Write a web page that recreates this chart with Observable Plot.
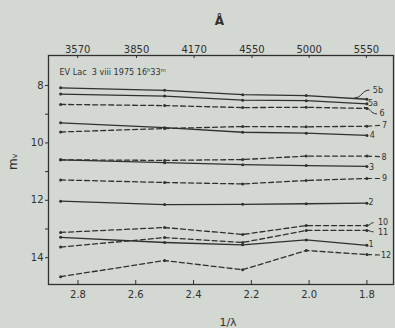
<!DOCTYPE html>
<html><head><meta charset="utf-8">
<script src="https://cdn.jsdelivr.net/npm/d3@7"></script>
<script src="https://cdn.jsdelivr.net/npm/@observablehq/plot@0.6"></script>
<style>
html,body{margin:0;padding:0;background:#d4d8d3;}
#chart{width:395px;height:328px;}
</style></head><body><div id="chart"></div>
<script>
// x positions of the measurements (1/λ, μm⁻¹)
const invWavelength = [2.86, 2.50, 2.23, 2.01, 1.80];

// series (curve labels) and their magnitudes m_v
const seriesNames  = ["5b","5a","6","7","4","8","3","9","2","10","11","1","12"];
const seriesDashed = [false,false,true,true,false,true,false,true,false,true,true,false,true];
const mag_5b = [8.08, 8.17, 8.32, 8.35, 8.48];
const mag_5a = [8.30, 8.37, 8.51, 8.53, 8.64];
const mag_6  = [8.66, 8.70, 8.77, 8.76, 8.80];
const mag_7  = [9.62, 9.50, 9.43, 9.44, 9.42];
const mag_4  = [9.30, 9.47, 9.63, 9.66, 9.74];
const mag_8  = [10.59, 10.61, 10.58, 10.46, 10.46];
const mag_3  = [10.59, 10.69, 10.76, 10.79, 10.82];
const mag_9  = [11.29, 11.38, 11.43, 11.31, 11.24];
const mag_2  = [12.03, 12.15, 12.14, 12.12, 12.10];
const mag_10 = [13.12, 12.95, 13.19, 12.88, 12.88];
const mag_11 = [13.63, 13.30, 13.47, 13.05, 13.05];
const mag_1  = [13.29, 13.47, 13.55, 13.38, 13.57];
const mag_12 = [14.66, 14.10, 14.42, 13.75, 13.89];
const seriesValues = [mag_5b, mag_5a, mag_6, mag_7, mag_4, mag_8, mag_3, mag_9, mag_2, mag_10, mag_11, mag_1, mag_12];

// curve-label positions (data units)
const labelX = [1.762, 1.779, 1.748, 1.739, 1.781, 1.741, 1.784, 1.739, 1.786, 1.744, 1.744, 1.786, 1.734];
const labelY = [8.17, 8.64, 8.98, 9.38, 9.74, 10.50, 10.85, 11.25, 12.09, 12.76, 13.11, 13.55, 13.92];

// leader lines from curve ends to labels (data units)
const leaderDashed = [true, true, true, true, false, false, false, false];
const leaderX1 = [1.80, 1.80, 1.80, 1.80, 1.843, 1.811, 1.80, 1.80];
const leaderY1 = [9.42, 10.46, 11.24, 13.89, 8.43, 8.76, 12.88, 13.05];
const leaderX2 = [1.753, 1.753, 1.753, 1.747, 1.791, 1.765, 1.777, 1.777];
const leaderY2 = [9.39, 10.48, 11.24, 13.91, 8.16, 8.99, 12.78, 13.10];

// axes
const xTickValues = [2.8, 2.6, 2.4, 2.2, 2.0, 1.8];
const xTickLabels = ["2.8", "2.6", "2.4", "2.2", "2.0", "1.8"];
const waveTickLabels = [3570, 3850, 4170, 4550, 5000, 5550];
const yTickValues = [8, 10, 12, 14];
const yMinorTicks = [9, 11, 13];
const titleText = "EV Lac  3 viii 1975 16ʰ33ᵐ";

const rows = [];
seriesNames.forEach((s, i) => seriesValues[i].forEach((m, j) =>
  rows.push({series: s, dashed: seriesDashed[i], x: invWavelength[j], m})));
const labels = seriesNames.map((s, i) => ({s, x: labelX[i], y: labelY[i]}));
const leaders = leaderX1.map((x1, i) => ({x1, y1: leaderY1[i], x2: leaderX2[i], y2: leaderY2[i], dashed: leaderDashed[i]}));
const waveTicks = waveTickLabels.map(w => ({v: 1e4 / w, label: String(w)}));

const ink = "#2f302f";
const W = 395, H = 328, mT = 55, mB = 44, mL = 48, mR = 2;
const frameH = H - mT - mB;

const chart = Plot.plot({
  width: W, height: H,
  marginLeft: mL, marginRight: mR, marginTop: mT, marginBottom: mB,
  style: {background: "#d4d8d3", color: ink, fontFamily: "DejaVu Sans, sans-serif", fontSize: "10px", overflow: "visible"},
  x: {domain: [2.902, 1.708]},
  y: {domain: [6.955, 14.934], reverse: true},
  marks: [
    Plot.frame({stroke: ink, strokeWidth: 1.3}),
    Plot.axisX({anchor: "bottom", ticks: xTickValues, tickFormat: (d, i) => xTickLabels[i], tickSize: 0, tickPadding: 6, label: null}),
    Plot.tickX(xTickValues, {x: d => d, insetTop: frameH - 4, stroke: ink}),
    Plot.axisX(waveTicks.map(d => d.v), {anchor: "top", tickFormat: (d, i) => waveTicks[i].label, tickSize: 0, tickPadding: 3, label: null}),
    Plot.tickX(waveTicks, {x: "v", insetBottom: frameH - 3, stroke: ink}),
    Plot.axisY({ticks: yTickValues, tickSize: 3, tickPadding: 2, label: null}),
    Plot.axisY({ticks: yMinorTicks, tickFormat: () => "", tickSize: 3, label: null}),
    Plot.line(rows.filter(d => !d.dashed), {x: "x", y: "m", z: "series", stroke: ink, strokeWidth: 1.3}),
    Plot.line(rows.filter(d => d.dashed), {x: "x", y: "m", z: "series", stroke: ink, strokeWidth: 1.3, strokeDasharray: "5,3"}),
    Plot.dot(rows, {x: "x", y: "m", r: 1.5, fill: ink}),
    Plot.link(leaders.filter(d => d.dashed), {x1: "x1", y1: "y1", x2: "x2", y2: "y2", stroke: ink, strokeWidth: 1.2, strokeDasharray: "5,3"}),
    Plot.link(leaders.filter(d => !d.dashed), {x1: "x1", y1: "y1", x2: "x2", y2: "y2", stroke: ink, strokeWidth: 1, curve: "bump-x"}),
    Plot.text(labels, {x: "x", y: "y", text: "s", fontSize: 8, fill: ink}),
    Plot.text([titleText], {frameAnchor: "top-left", dx: 11, dy: 17, lineAnchor: "middle", textAnchor: "start", fontSize: 9, fontFamily: "DejaVu Sans Condensed, Liberation Sans Narrow, DejaVu Sans, sans-serif", fill: ink}),
    Plot.text(["Å"], {frameAnchor: "top", dx: -1.5, dy: -31, lineAnchor: "bottom", fontSize: 12, fontWeight: "bold", fill: ink}),
    Plot.text(["1/λ"], {frameAnchor: "bottom", dx: 7, dy: 38, lineAnchor: "middle", fontSize: 11, fill: ink}),
    Plot.text(["mᵥ"], {frameAnchor: "left", dx: -35, rotate: -90, lineAnchor: "middle", fontSize: 12, fill: ink})
  ]
});
document.getElementById("chart").appendChild(chart);
</script></body></html>
